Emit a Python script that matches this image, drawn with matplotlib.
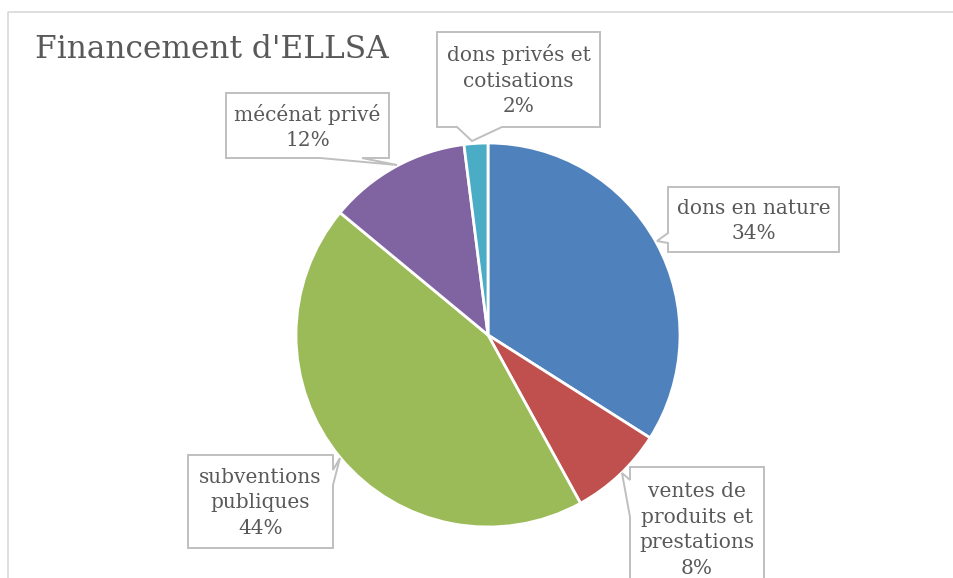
import matplotlib.pyplot as plt
from matplotlib.patches import Polygon

# Données
labels = ["dons en nature", "ventes de\nproduits et\nprestations", "subventions\npubliques",
          "mécénat privé", "dons privés et\ncotisations"]
values = [34, 8, 44, 12, 2]
colors = ["#4F81BD", "#C0504D", "#9BBB59", "#8064A2", "#4BACC6"]

W, H = 954, 578
TXT = "#595959"
plt.rcParams['font.family'] = ['DejaVu Serif']

fig = plt.figure(figsize=(W / 100, H / 100), dpi=100)
ax = fig.add_axes([0, 0, 1, 1])
ax.set_xlim(0, W)
ax.set_ylim(0, H)
ax.set_aspect('equal')
ax.axis('off')

def Y(y):
    return H - y

# chart frame (cut at right/bottom)
ax.plot([8, 8, W + 10], [Y(H + 10), Y(12), Y(12)], color="#D9D9D9", lw=1.2)

ax.text(35, Y(49), "Financement d'ELLSA", fontsize=22.5, color=TXT, va='center', ha='left')

ax.pie(values, colors=colors, startangle=90, counterclock=False,
       center=(488, Y(335)), radius=192,
       wedgeprops=dict(edgecolor='white', linewidth=2))
ax.set_xlim(0, W)
ax.set_ylim(0, H)


def callout(box, side, a, b, tip):
    x0, y0, x1, y1 = box
    if side == 'bottom':
        pts = [(x0, y0), (x1, y0), (x1, y1), (b, y1), tip, (a, y1), (x0, y1)]
    elif side == 'left':
        pts = [(x0, y0), (x1, y0), (x1, y1), (x0, y1), (x0, b), tip, (x0, a)]
    else:  # right
        pts = [(x0, y0), (x1, y0), (x1, a), tip, (x1, b), (x1, y1), (x0, y1)]
    pts = [(px, Y(py)) for px, py in pts]
    ax.add_patch(Polygon(pts, closed=True, facecolor='white', edgecolor='#BFBFBF',
                         linewidth=1.4, zorder=5))


layout = [
    ((668, 187, 839, 252), 'left', 233, 243, (657, 241)),
    ((630, 467, 764, 610), 'left', 480, 517, (622, 473)),
    ((188, 455, 333, 548), 'right', 470, 485, (340, 458)),
    ((226, 93, 389, 158), 'bottom', 320, 362, (397, 165)),
    ((437, 32, 600, 127), 'bottom', 457, 502, (472, 141)),
]
text_y = [221, 530, 503, 127, 80]

for lab, v, (box, side, a, b, tip), ty in zip(labels, values, layout, text_y):
    callout(box, side, a, b, tip)
    cx = (box[0] + box[2]) / 2
    ax.text(cx, Y(ty), f"{lab}\n{v}%", ha='center', va='center', fontsize=14.5,
            color=TXT, linespacing=1.45, zorder=6)

fig.savefig("out.png", dpi=100)
